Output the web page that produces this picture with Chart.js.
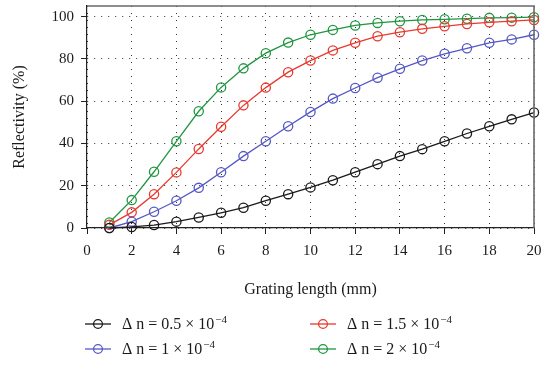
<!DOCTYPE html>
<html>
<head>
<meta charset="utf-8">
<script src="https://cdn.jsdelivr.net/npm/chart.js@4.4.1/dist/chart.umd.min.js"></script>
<style>
  html, body { margin: 0; padding: 0; background: #ffffff; }
  #wrap { width: 543px; height: 365px; position: relative; }
</style>
</head>
<body>
<div id="wrap"><canvas id="chart" width="543" height="365"></canvas></div>
<script>
// Grating length in mm
const lengths = [1, 2, 3, 4, 5, 6, 7, 8, 9, 10, 11, 12, 13, 14, 15, 16, 17, 18, 19, 20];

// Reflectivity (%) for each index modulation depth
const dn05 = [0, 0.5, 1.4, 3.0, 5.0, 7.2, 9.6, 12.9, 16.0, 19.2, 22.6, 26.4, 30.2, 34.0, 37.3, 41.0, 44.7, 48.1, 51.4, 54.6];
const dn10 = [0, 3.0, 7.7, 12.9, 19.0, 26.4, 34.0, 41.0, 48.1, 54.9, 61.2, 66.2, 71.1, 75.3, 79.2, 82.4, 85.0, 87.6, 89.2, 91.4];
const dn15 = [1.5, 7.4, 16.0, 26.3, 37.4, 47.9, 58.0, 66.4, 73.7, 79.2, 84.0, 87.6, 90.7, 92.6, 94.2, 95.4, 96.5, 97.3, 97.8, 98.4];
const dn20 = [2.6, 13.2, 26.6, 41.0, 55.2, 66.5, 75.5, 82.7, 87.7, 91.4, 93.7, 95.8, 97.0, 97.8, 98.4, 98.7, 99.0, 99.4, 99.5, 99.7];

// Legend labels: base text and superscript exponent
const seriesLabels = ['\u0394 n = 0.5 \u00d7 10', '\u0394 n = 1 \u00d7 10', '\u0394 n = 1.5 \u00d7 10', '\u0394 n = 2 \u00d7 10'];
const seriesExp = ['\u22124', '\u22124', '\u22124', '\u22124'];
const seriesColors = ['#1a1a1a', '#5558c4', '#e8392e', '#1f9640'];

const xTicks = [0, 2, 4, 6, 8, 10, 12, 14, 16, 18, 20];
const yTicks = [0, 20, 40, 60, 80, 100];

const FONT = '"Liberation Serif", "DejaVu Serif", serif';

function makeSet(i, values) {
  return {
    label: seriesLabels[i] + seriesExp[i],
    data: lengths.map((x, k) => ({ x: x, y: values[k] })),
    borderColor: seriesColors[i],
    backgroundColor: 'rgba(0,0,0,0)',
    borderWidth: 1.3,
    pointRadius: 4.6,
    pointBorderWidth: 1.3,
    pointStyle: 'circle',
    pointBackgroundColor: 'rgba(0,0,0,0)',
    pointBorderColor: seriesColors[i],
    tension: 0,
    fill: false,
    clip: false
  };
}

// Box around the plot area (top and right edges)
const frame = {
  id: 'frame',
  afterDraw(chart) {
    const { ctx, chartArea: a } = chart;
    ctx.save();
    ctx.strokeStyle = '#6a6a6a';
    ctx.lineWidth = 1.6;
    ctx.beginPath();
    ctx.moveTo(a.left, a.top);
    ctx.lineTo(a.right, a.top);
    ctx.lineTo(a.right, a.bottom);
    ctx.stroke();
    ctx.restore();
  }
};

// Two-column legend below the axis title
const legend2 = {
  id: 'legend2',
  afterDraw(chart) {
    const { ctx } = chart;
    const order = [0, 2, 1, 3];
    const colX = [85, 310];
    const rowY = [324, 349];
    ctx.save();
    order.forEach((dsIndex, slot) => {
      const ds = chart.data.datasets[dsIndex];
      const x = colX[slot % 2];
      const y = rowY[Math.floor(slot / 2)];
      ctx.strokeStyle = ds.borderColor;
      ctx.lineWidth = 1.3;
      ctx.beginPath();
      ctx.moveTo(x, y);
      ctx.lineTo(x + 26, y);
      ctx.stroke();
      ctx.beginPath();
      ctx.arc(x + 13, y, 4.4, 0, Math.PI * 2);
      ctx.stroke();
      ctx.fillStyle = '#1a1a1a';
      ctx.textBaseline = 'middle';
      ctx.textAlign = 'left';
      ctx.font = '16px ' + FONT;
      const tx = x + 37;
      ctx.fillText(seriesLabels[dsIndex], tx, y + 1);
      const w = ctx.measureText(seriesLabels[dsIndex]).width;
      ctx.font = '11px ' + FONT;
      ctx.fillText(seriesExp[dsIndex], tx + w + 1, y - 4);
    });
    ctx.restore();
  }
};

new Chart(document.getElementById('chart'), {
  type: 'line',
  data: {
    datasets: [makeSet(0, dn05), makeSet(1, dn10), makeSet(2, dn15), makeSet(3, dn20)]
  },
  options: {
    responsive: false,
    animation: false,
    devicePixelRatio: 1,
    layout: { padding: { top: 6, right: 9, bottom: 66, left: 0 } },
    plugins: {
      legend: { display: false },
      tooltip: { enabled: false }
    },
    scales: {
      x: {
        type: 'linear',
        min: 0,
        max: 20,
        afterBuildTicks(scale) { scale.ticks = xTicks.map(v => ({ value: v })); },
        afterFit(scale) { scale.height = 71; scale.paddingLeft = 0; scale.paddingRight = 0; },
        ticks: { color: '#1a1a1a', font: { family: FONT, size: 15 }, padding: 8, maxRotation: 0 },
        grid: { color: '#333333', lineWidth: 1, tickLength: 6, tickColor: '#222222', tickWidth: 1 },
        border: { display: true, color: '#222222', width: 1.2, dash: [1, 6] },
        title: { display: true, text: 'Grating length (mm)', color: '#1a1a1a', font: { family: FONT, size: 16 }, padding: { top: 0, bottom: 0 } }
      },
      y: {
        type: 'linear',
        min: 0,
        max: 105,
        afterBuildTicks(scale) { scale.ticks = yTicks.map(v => ({ value: v })); },
        afterFit(scale) { scale.width = 87; scale.paddingTop = 0; scale.paddingBottom = 0; },
        ticks: { color: '#1a1a1a', font: { family: FONT, size: 15 }, padding: 7 },
        grid: { color: '#333333', lineWidth: 1, tickLength: 6, tickColor: '#222222', tickWidth: 1 },
        border: { display: true, color: '#222222', width: 1.2, dash: [1, 6] },
        title: { display: true, text: 'Reflectivity (%)', color: '#1a1a1a', font: { family: FONT, size: 16 }, padding: { top: 10, bottom: 0 } }
      }
    }
  },
  plugins: [frame, legend2]
});
</script>
</body>
</html>
